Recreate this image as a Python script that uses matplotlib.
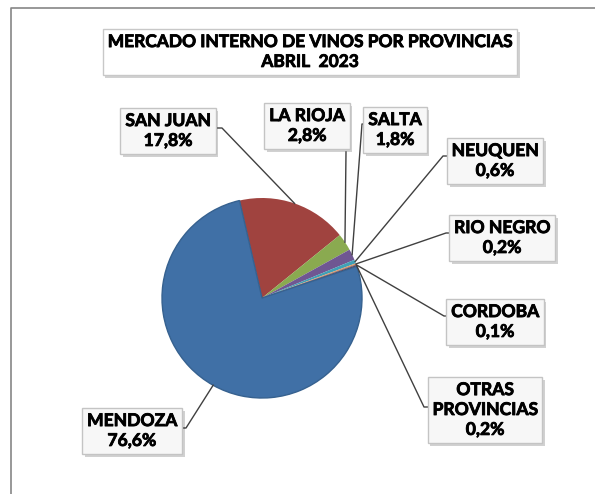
import matplotlib.pyplot as plt
import matplotlib.patheffects as pe
import numpy as np

# datos (abril 2023)
provincias = ["SAN JUAN", "LA RIOJA", "SALTA", "NEUQUEN", "RIO NEGRO",
              "CORDOBA", "OTRAS\nPROVINCIAS", "MENDOZA"]
porcentajes = [17.8, 2.8, 1.8, 0.6, 0.2, 0.1, 0.2, 76.6]
colores = ["#A0433F", "#8AAA50", "#6F5792", "#40A0B6", "#E8905A",
           "#2C4D75", "#772C2A", "#4070A6"]
titulo = "MERCADO INTERNO DE VINOS POR PROVINCIAS\nABRIL  2023"

W, H = 595, 494

# posiciones de las etiquetas (pixeles de imagen, y hacia abajo)
pos_label = [(168, 131), (307, 126), (395, 130), (495, 161), (502, 238),
             (495, 322), (485, 410), (132, 431)]
# punto donde la linea toca la caja y codo
pos_start = [(215, 128), (346, 152), (367, 124), (448, 156), (451, 233),
             (449, 316), (429, 407), (180, 428)]
pos_codo = [(222, 128), (346, 152), (362, 124), (443, 156), (446, 233),
            (444, 316), (424, 407), (186, 428)]

plt.rcParams['font.family'] = ['Lato', 'DejaVu Sans']

fig = plt.figure(figsize=(W / 100, H / 100), dpi=100)
ax = fig.add_axes([0, 0, 1, 1])

def iy(y):
    return H - y

cx, cy, r = 262, iy(298), 100
wedges, _ = ax.pie(porcentajes, colors=colores, startangle=103, counterclock=False,
                   center=(cx, cy), radius=r, frame=True,
                   wedgeprops=dict(linewidth=0))
wedges[-1].set_edgecolor('#36618F')
wedges[-1].set_linewidth(1.0)

sombra = [pe.SimplePatchShadow(offset=(2, -2), shadow_rgbFace='#000000', alpha=0.18),
          pe.Normal()]
grueso = [pe.withStroke(linewidth=0.6, foreground='black')]

for w, nombre, val, lp, st, cd in zip(wedges, provincias, porcentajes,
                                       pos_label, pos_start, pos_codo):
    ang = np.deg2rad((w.theta1 + w.theta2) / 2)
    ax_ = cx + r * np.cos(ang)
    ay_ = cy + r * np.sin(ang)
    ax.plot([ax_, cd[0], st[0]], [ay_, iy(cd[1]), iy(st[1])],
            color='#404040', lw=1, zorder=3)
    txt = (nombre + "\n" + ("%.1f" % val).replace(".", ",") + "%")
    t = ax.text(lp[0], iy(lp[1]), txt, ha='center', va='center', fontsize=12.6,
                fontweight='bold', linespacing=1.3, zorder=5, path_effects=grueso,
                bbox=dict(boxstyle='square,pad=0.28', fc='#F7F7F7', ec='#C4C4C4', lw=1))
    t.get_bbox_patch().set_path_effects(sombra)

tt = ax.text(310, iy(52), titulo, ha='center', va='center', fontsize=12.5,
             fontweight='bold', linespacing=1.3, zorder=5, path_effects=grueso,
             bbox=dict(boxstyle='square,pad=0.3', fc='white', ec='#C8C8C8', lw=1))
tt.get_bbox_patch().set_path_effects(sombra)

# marco exterior
ax.plot([11, 11, W], [0, iy(8), iy(8)], color='#868686', lw=1.2, zorder=1)

ax.set_xlim(0, W)
ax.set_ylim(0, H)
ax.axis('off')

fig.savefig("out.png", dpi=100)
